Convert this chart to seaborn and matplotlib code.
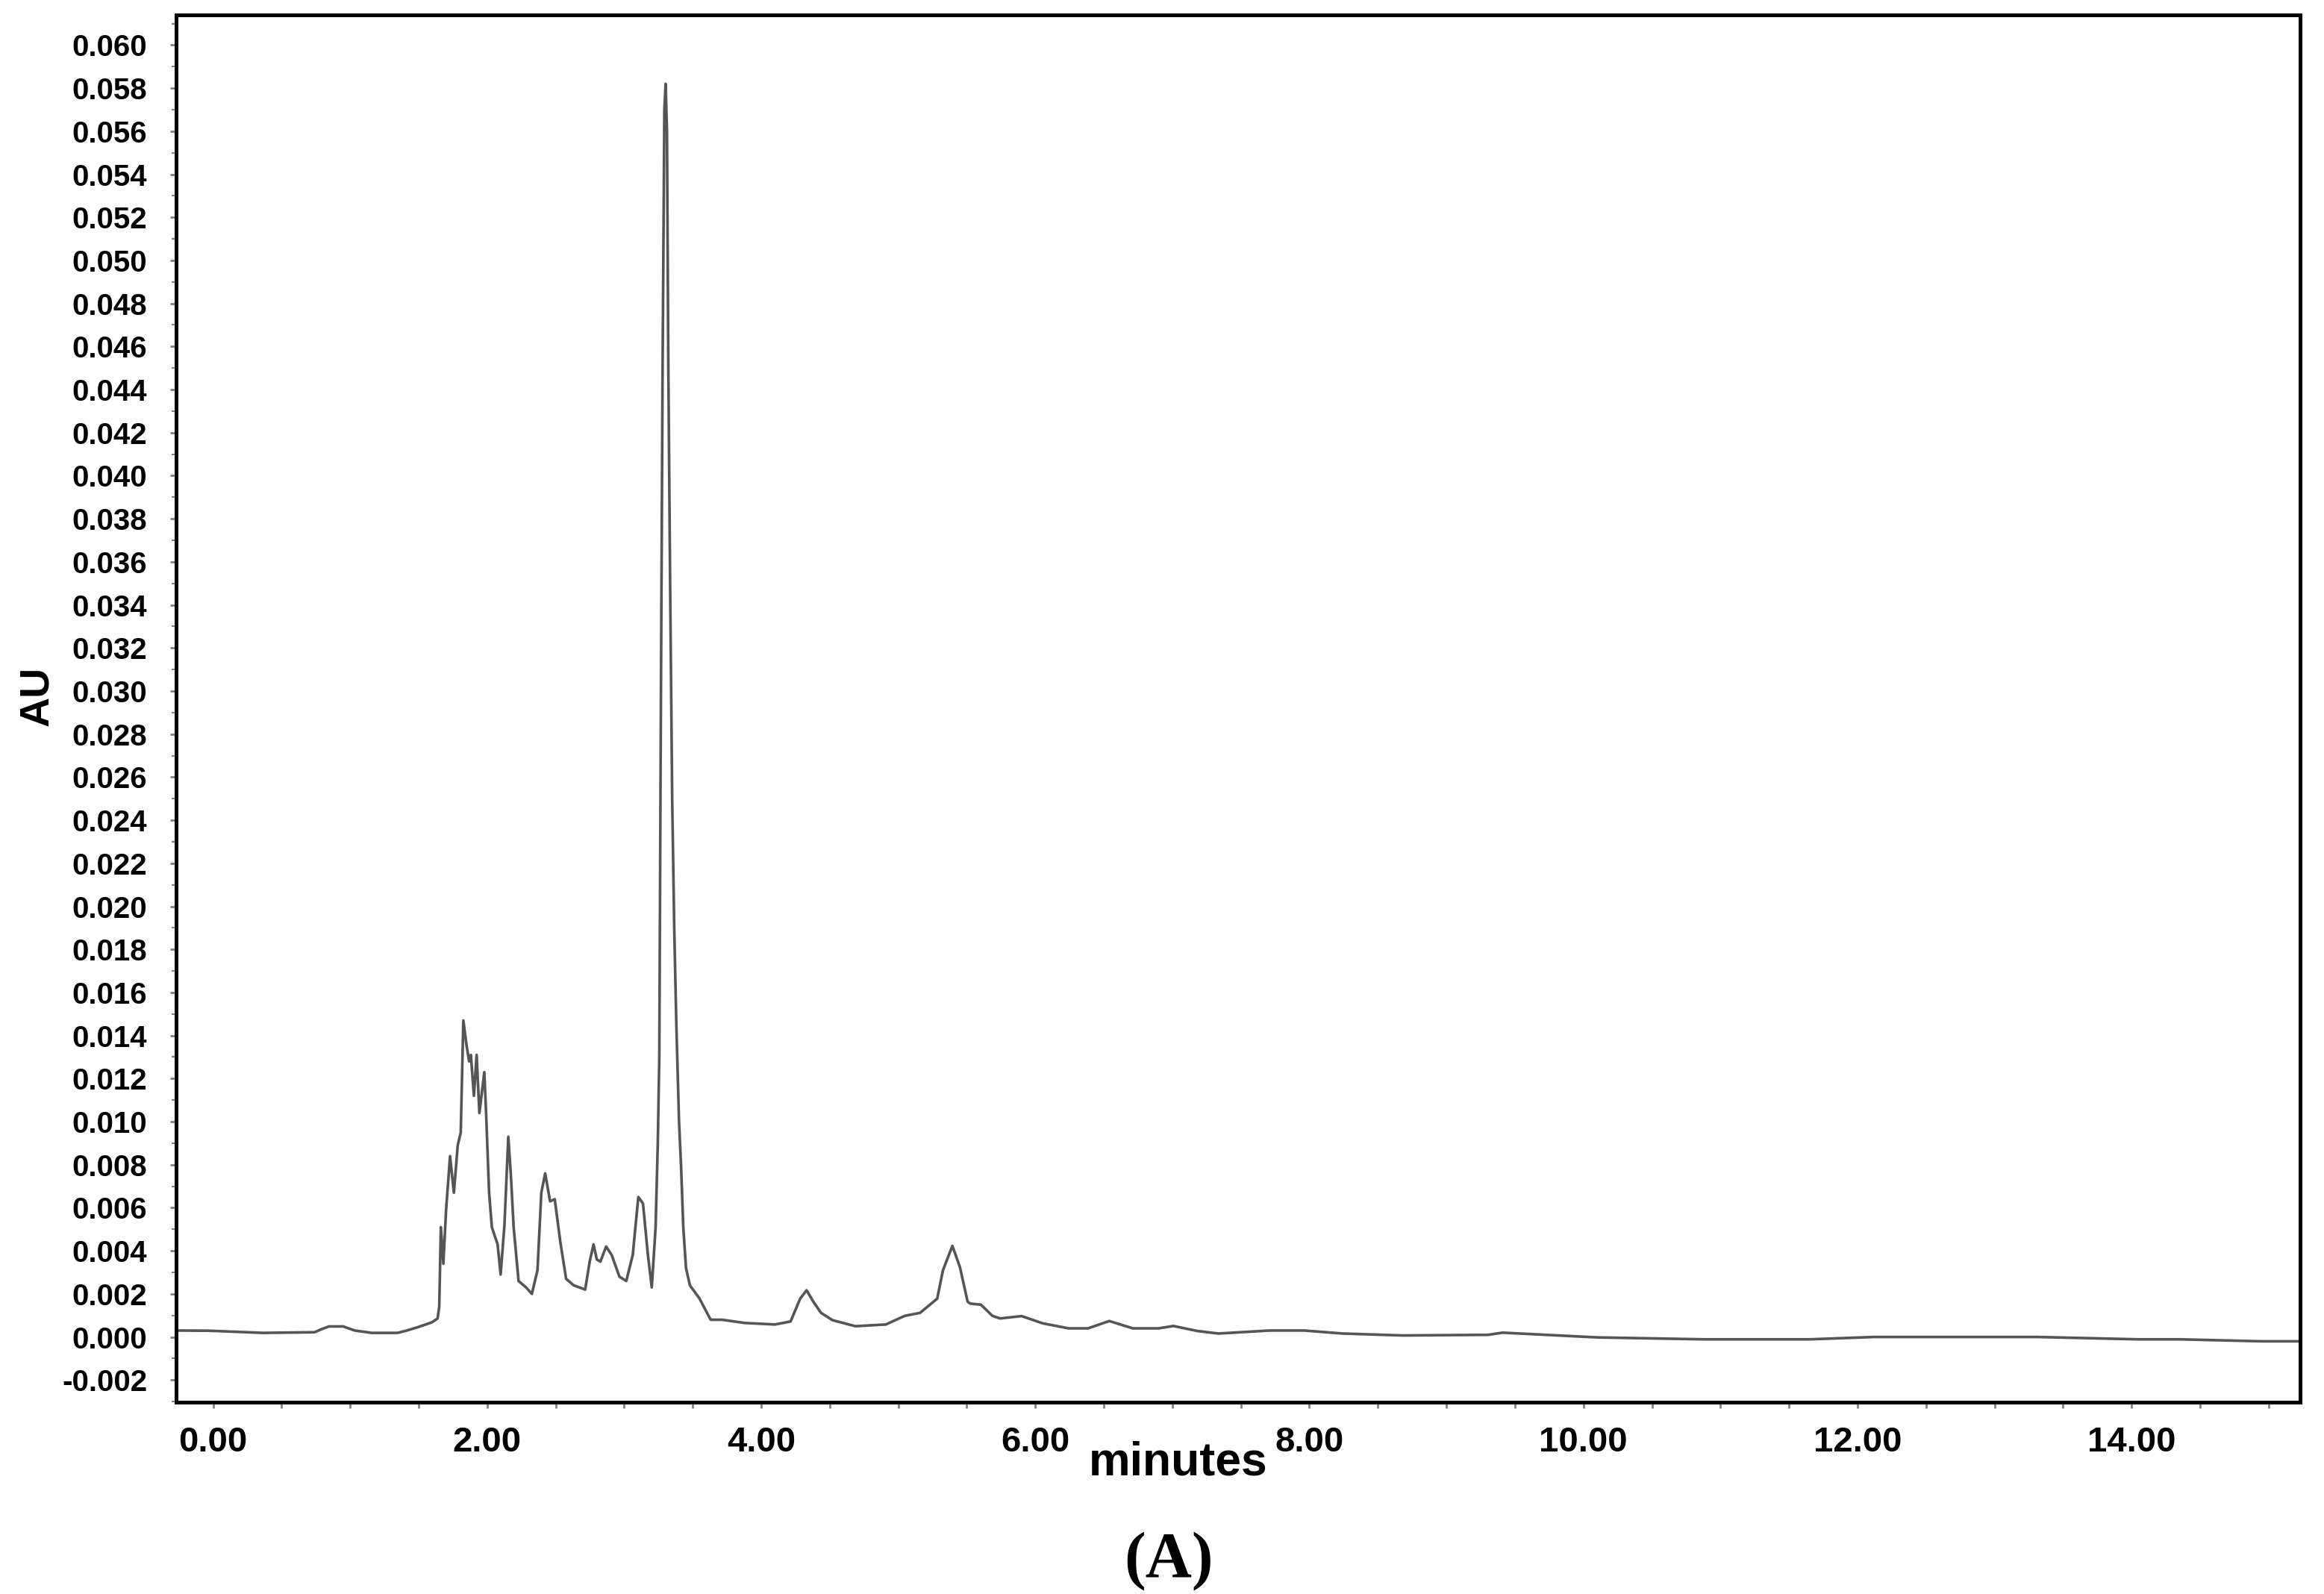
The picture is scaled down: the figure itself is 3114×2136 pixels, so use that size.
import matplotlib
matplotlib.use("Agg")
import matplotlib.pyplot as plt
from matplotlib import font_manager
from matplotlib.ticker import MultipleLocator, FormatStrFormatter
import seaborn as sns
import pandas as pd

# ---- data ----
minutes = [
    -0.27, -0.03, 0.365, 0.74, 0.783, 0.845, 0.949, 1.033, 1.158, 1.346, 1.408, 1.492,
    1.596, 1.638, 1.650, 1.662, 1.680, 1.700, 1.729, 1.757, 1.785, 1.807, 1.826, 1.848,
    1.868, 1.881, 1.903, 1.923, 1.943, 1.979, 1.992, 2.014, 2.034, 2.076, 2.098, 2.126,
    2.154, 2.173, 2.193, 2.229, 2.284, 2.326, 2.367, 2.395, 2.423, 2.459, 2.493, 2.534,
    2.576, 2.631, 2.715, 2.748, 2.776, 2.800, 2.826, 2.868, 2.909, 2.965, 3.015, 3.062,
    3.103, 3.137, 3.173, 3.201, 3.229, 3.245, 3.256, 3.268, 3.280, 3.293, 3.302, 3.312,
    3.322, 3.335, 3.350, 3.365, 3.380, 3.400, 3.415, 3.431, 3.451, 3.479, 3.548, 3.631,
    3.714, 3.881, 4.100, 4.214, 4.284, 4.331, 4.380, 4.436, 4.520, 4.687, 4.909, 5.047,
    5.159, 5.284, 5.326, 5.395, 5.450, 5.506, 5.525, 5.603, 5.687, 5.743, 5.900, 6.056,
    6.243, 6.384, 6.540, 6.712, 6.899, 7.008, 7.180, 7.336, 7.711, 7.961, 8.243, 8.680,
    9.305, 9.410, 10.10, 10.88, 11.65, 12.12, 12.69, 13.31, 14.05, 14.36, 14.94, 15.23,
]
au = [
    0.00030, 0.00029, 0.00019, 0.00022, 0.00034, 0.00049, 0.00049, 0.00030, 0.00019, 0.00019, 0.00029, 0.00045,
    0.00068, 0.00086, 0.00140, 0.00510, 0.00340, 0.00590, 0.00840, 0.00670, 0.00890, 0.00950, 0.01470, 0.01360,
    0.01280, 0.01310, 0.01120, 0.01310, 0.01040, 0.01230, 0.01040, 0.00670, 0.00510, 0.00430, 0.00290, 0.00520,
    0.00930, 0.00750, 0.00510, 0.00260, 0.00230, 0.00200, 0.00310, 0.00670, 0.00760, 0.00630, 0.00640, 0.00440,
    0.00270, 0.00240, 0.00220, 0.00350, 0.00430, 0.00360, 0.00350, 0.00420, 0.00380, 0.00280, 0.00260, 0.00380,
    0.00650, 0.00620, 0.00380, 0.00230, 0.00510, 0.00900, 0.01300, 0.03000, 0.04500, 0.05700, 0.05820, 0.05600,
    0.04500, 0.03500, 0.02500, 0.01900, 0.01460, 0.01000, 0.00790, 0.00510, 0.00320, 0.00240, 0.00180, 0.00080,
    0.00080, 0.00065, 0.00058, 0.00072, 0.00178, 0.00217, 0.00164, 0.00112, 0.00078, 0.00050, 0.00058, 0.00098,
    0.00112, 0.00178, 0.00310, 0.00423, 0.00324, 0.00164, 0.00155, 0.00150, 0.00098, 0.00086, 0.00097, 0.00063,
    0.00040, 0.00040, 0.00074, 0.00040, 0.00040, 0.00051, 0.00028, 0.00016, 0.00030, 0.00030, 0.00016, 0.00007,
    0.00010, 0.00020, -0.00002, -0.00011, -0.00011, 0.00000, 0.00000, 0.00000, -0.00011, -0.00011, -0.00020, -0.00020,
]
x_ticks = [0, 2, 4, 6, 8, 10, 12, 14]
y_ticks = [round(-0.002 + 0.002 * i, 3) for i in range(32)]
x_label = "minutes"
y_label = "AU"
caption = "(A)"

sns.set_theme(style="white")
plt.rcParams["axes.unicode_minus"] = False

available = {f.name for f in font_manager.fontManager.ttflist}
sans = "Liberation Sans" if "Liberation Sans" in available else "DejaVu Sans"
narrow = "Liberation Sans Narrow" if "Liberation Sans Narrow" in available else sans
serif = "Liberation Serif" if "Liberation Serif" in available else "DejaVu Serif"
plt.rcParams["font.family"] = [sans, "DejaVu Sans"]
x_tick_size = 42 if narrow != sans else 34

W, H = 3114, 2136
fig = plt.figure(figsize=(W / 100, H / 100), dpi=100)
fig.patch.set_facecolor("white")
left, right, top, bottom = 236, 3082, 20, 1879
ax = fig.add_axes([left / W, 1 - bottom / H, (right - left) / W, (bottom - top) / H])

df = pd.DataFrame({"minutes": minutes, "AU": au})
sns.lineplot(data=df, x="minutes", y="AU", ax=ax, color="#555555", linewidth=2.6,
             estimator=None, sort=False)

ax.set_xlim(-0.27, 15.23)
ax.set_ylim(-0.00303, 0.0614)
ax.set_xlabel("")
ax.set_ylabel("")
ax.grid(False)

for sp in ax.spines.values():
    sp.set_visible(True)
    sp.set_color("black")
    sp.set_linewidth(3.6)

ax.set_xticks(x_ticks)
ax.xaxis.set_major_formatter(FormatStrFormatter("%.2f"))
ax.xaxis.set_minor_locator(MultipleLocator(0.5))
ax.set_yticks(y_ticks)
ax.yaxis.set_major_formatter(FormatStrFormatter("%.3f"))
ax.yaxis.set_minor_locator(MultipleLocator(0.001))

ax.tick_params(axis="both", which="both", direction="out", color="#808080",
               bottom=True, left=True, top=False, right=False)
ax.tick_params(axis="y", which="major", length=6, width=2, pad=22)
ax.tick_params(axis="y", which="minor", length=4, width=1.5)
ax.tick_params(axis="x", which="major", length=6, width=2, pad=17)
ax.tick_params(axis="x", which="minor", length=6, width=2)

for lab in ax.get_yticklabels():
    lab.set_fontsize(29)
    lab.set_fontweight("bold")
    lab.set_color("black")
    lab.set_family([sans, "DejaVu Sans"])
for lab in ax.get_xticklabels():
    lab.set_fontsize(x_tick_size)
    lab.set_fontweight("bold")
    lab.set_color("black")
    lab.set_family([narrow, "DejaVu Sans"])

fig.text(1579 / W, 1 - 1960 / H, x_label, ha="center", va="center",
         fontsize=45, fontweight="bold", color="black", family=[sans, "DejaVu Sans"])
fig.text(50 / W, 1 - 933 / H, y_label, ha="center", va="center", rotation=90,
         fontsize=40, fontweight="bold", color="black", family=[sans, "DejaVu Sans"])
fig.text(1566 / W, 1 - 2092 / H, caption, ha="center", va="center",
         fontsize=62, fontweight="bold", color="black", family=[serif, "DejaVu Serif"])

fig.savefig("out.png", dpi=100, facecolor="white")
